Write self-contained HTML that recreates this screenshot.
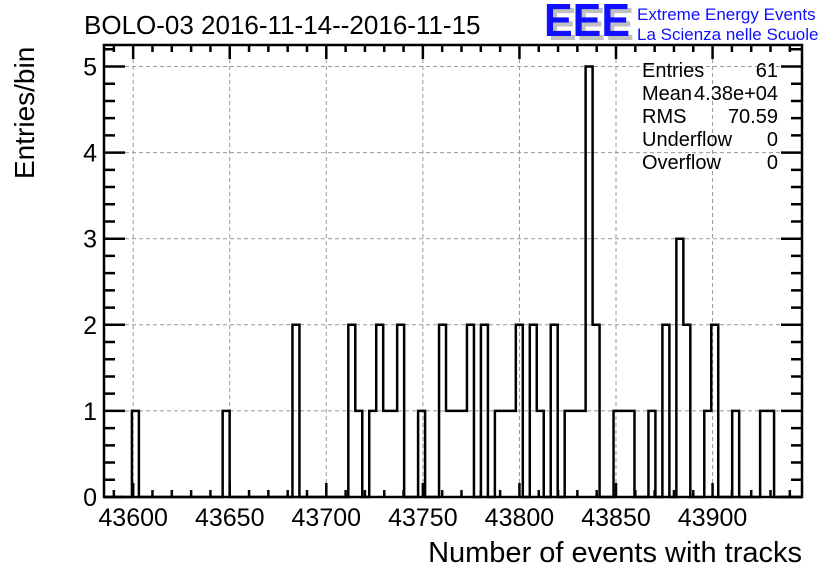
<!DOCTYPE html>
<html><head><meta charset="utf-8">
<style>
html,body{margin:0;padding:0;background:#fff;}
svg{display:block;font-family:"Liberation Sans",sans-serif;}
</style></head>
<body>
<svg id="chart" width="836" height="572" viewBox="0 0 836 572" xmlns="http://www.w3.org/2000/svg">
  <rect x="0" y="0" width="836" height="572" fill="#fff"/>
  <text x="84" y="34" font-size="26" fill="#000">BOLO-03 2016-11-14--2016-11-15</text>
  <g>
    <text x="548" y="40" font-size="46" font-weight="bold" fill="#c0c0c0" textLength="86" lengthAdjust="spacingAndGlyphs">EEE</text>
    <text x="544" y="36" font-size="46" font-weight="bold" fill="#1010ff" textLength="86" lengthAdjust="spacingAndGlyphs">EEE</text>
    <text x="637" y="20" font-size="17" fill="#1010ff">Extreme Energy Events</text>
    <text x="637" y="40" font-size="17" fill="#1010ff">La Scienza nelle Scuole</text>
  </g>
  <g id="grid"></g>
  <g id="axes"></g>
  <path id="hist" fill="none" stroke="#000" stroke-width="2.5"/>
  <g font-size="20" fill="#000">
    <text x="642" y="77">Entries</text><text x="778" y="77" text-anchor="end">61</text>
    <text x="642" y="100">Mean</text><text x="778" y="100" text-anchor="end">4.38e+04</text>
    <text x="642" y="123">RMS</text><text x="778" y="123" text-anchor="end">70.59</text>
    <text x="642" y="146">Underflow</text><text x="778" y="146" text-anchor="end">0</text>
    <text x="642" y="169">Overflow</text><text x="778" y="169" text-anchor="end">0</text>
  </g>
  <text x="802" y="562" font-size="29" text-anchor="end" fill="#000">Number of events with tracks</text>
  <text transform="translate(34,179) rotate(-90)" font-size="28" fill="#000">Entries/bin</text>
</svg>
<script>
const binCounts = [0,0,0,0,1,0,0,0,0,0, 0,0,0,0,0,0,0,1,0,0, 0,0,0,0,0,0,0,2,0,0, 0,0,0,0,0,2,1,0,1,2,
  1,1,2,0,0,1,0,0,2,1, 1,1,2,0,2,0,1,1,1,2, 0,2,1,0,2,0,1,1,1,5, 2,0,0,1,1,1,0,0,1,0,
  2,0,3,2,0,0,1,2,0,0, 1,0,0,0,1,1,0,0,0,0];
const xRange = [43584.9, 43946.3];
const yRange = [0, 5.25];
const xTickValues = [43600,43650,43700,43750,43800,43850,43900];
const xTickLabels = ["43600","43650","43700","43750","43800","43850","43900"];
const yTickValues = [0,1,2,3,4,5];
const yTickLabels = ["0","1","2","3","4","5"];

const L=104, R=802, T=45, B=497;
const sx = v => L + (v - xRange[0]) / (xRange[1]-xRange[0]) * (R-L);
const sy = v => B - (v - yRange[0]) / (yRange[1]-yRange[0]) * (B-T);
const NS="http://www.w3.org/2000/svg";
function mk(tag, attrs, parent){const e=document.createElementNS(NS,tag);for(const k in attrs)e.setAttribute(k,attrs[k]);parent.appendChild(e);return e;}
const grid=document.getElementById('grid'), axes=document.getElementById('axes');

xTickValues.forEach((v,i)=>{
  const x=sx(v);
  const g=mk('line',{x1:x,x2:x,y1:T,y2:B,stroke:'#999','stroke-dasharray':'4,3','stroke-width':1},grid);
  
  
  const t=mk('text',{x:x,y:526,'font-size':25,'text-anchor':'middle',fill:'#000'},axes);
  t.textContent=xTickLabels[i];
  
  
});
yTickValues.forEach((v,i)=>{
  const y=sy(v);
  if(v>0){
    const g=mk('line',{x1:L,x2:R,y1:y,y2:y,stroke:'#999','stroke-dasharray':'4,3','stroke-width':1},grid);
    
    
  }
  const t=mk('text',{x:97,y:y+9,'font-size':25,'text-anchor':'end',fill:'#000'},axes);
  t.textContent=yTickLabels[i];
  
  
});
let d='';
for(let v=43590; v<=xRange[1]; v+=10){
  if(v<xRange[0]) continue;
  const x=sx(v); const len=(v%50===0)?14:7;
  d+=`M${x},${B}V${B-len}M${x},${T}V${T+len}`;
}
for(let v=0; v<=yRange[1]+1e-9; v+=0.2){
  const y=sy(v); const major=Math.abs(v-Math.round(v))<1e-6; const len=major?21:11;
  d+=`M${L},${y}H${L+len}M${R},${y}H${R-len}`;
}
const tk=mk('path',{d:d,stroke:'#000','stroke-width':2.5,fill:'none'},axes);


const fr=mk('rect',{x:L,y:T,width:R-L,height:B-T,fill:'none',stroke:'#000','stroke-width':2.5},axes);



const n=binCounts.length, bw=(xRange[1]-xRange[0])/n;
let p=`M${sx(xRange[0])},${sy(0)}`;
binCounts.forEach((c,i)=>{
  const x0=sx(xRange[0]+i*bw), x1=sx(xRange[0]+(i+1)*bw);
  p+=`L${x0},${sy(c)}L${x1},${sy(c)}`;
});
p+=`L${sx(xRange[1])},${sy(0)}`;
document.getElementById('hist').setAttribute('d',p);
</script>
</body></html>
